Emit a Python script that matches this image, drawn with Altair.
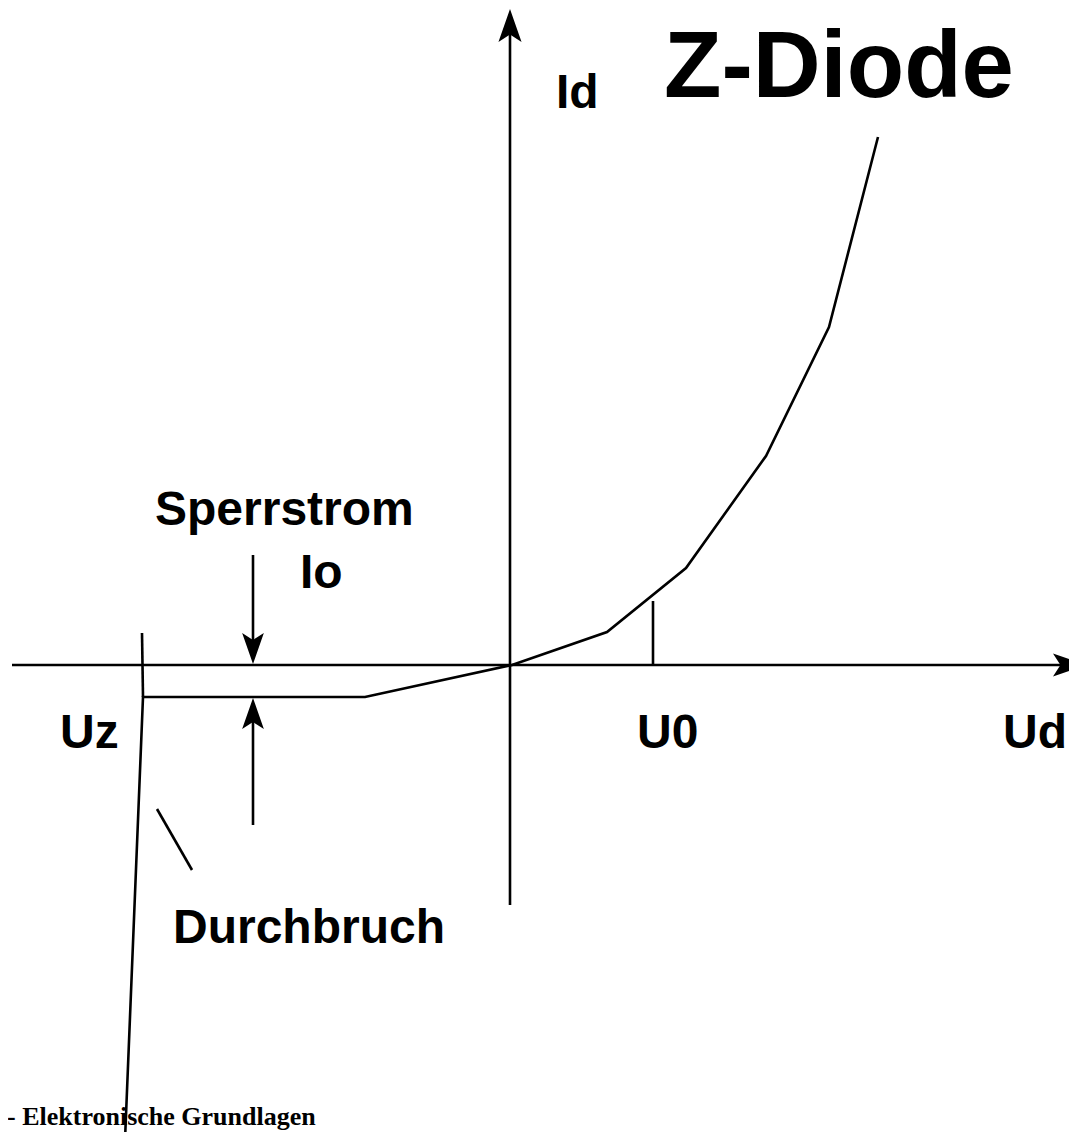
import altair as alt
import pandas as pd

# Coordinates: u = voltage-like horizontal position, i = current-like vertical position
# (origin at the axes crossing)

# characteristic curve (breakdown branch -> reverse -> forward)
curve_u = [-385, -367, -145, 2, 97, 176, 256, 319, 368]
curve_i = [-475, -32, -32, 0, 33, 97, 209, 338, 528]

# straight helper segments: (name, u0, i0, u1, i1)
seg_names = ["x_axis", "y_axis", "uz_tick", "u0_tick", "pointer", "io_down", "io_up"]
seg_u0 = [-498, 0, -368, 143, -353, -257, -257]
seg_i0 = [0, -240, 32, 64, -144, 110, -160]
seg_u1 = [560, 0, -367, 143, -318, -257, -257]
seg_i1 = [0, 640, -32, 0, -205, 15, -47]

# arrow heads
head_u = [0, 576, -257, -257]
head_i = [656, 0, 1, -33]
head_angle = [0, 90, 180, 0]
head_size = [1089, 1089, 961, 961]

# labels
label_text = ["Z-Diode", "Id", "Sperrstrom", "Io", "Uz", "U0", "Ud", "Durchbruch"]
label_u = [154, 46, -355, -210, -450, 127, 493, -337]
label_i = [568, 557, 140, 77, -83, -83, -83, -278]
label_size = [94, 48, 48, 48, 48, 48, 48, 48]

footer_text = ["- Elektronische Grundlagen"]
footer_u = [-503]
footer_i = [-460]

W, H = 1061, 1124
xs = alt.Scale(domain=[-502, 559], nice=False, zero=False)
ys = alt.Scale(domain=[-467, 657], nice=False, zero=False)

rows = []
for k, (u, i) in enumerate(zip(curve_u, curve_i)):
    rows.append({"seg": "curve", "ord": k, "u": u, "i": i})
for n, a, b, c, d in zip(seg_names, seg_u0, seg_i0, seg_u1, seg_i1):
    rows.append({"seg": n, "ord": 0, "u": a, "i": b})
    rows.append({"seg": n, "ord": 1, "u": c, "i": d})
lines_df = pd.DataFrame(rows)

heads_df = pd.DataFrame({"u": head_u, "i": head_i, "ang": head_angle, "sz": head_size})
labels_df = pd.DataFrame({"t": label_text, "u": label_u, "i": label_i, "fs": label_size})
footer_df = pd.DataFrame({"t": footer_text, "u": footer_u, "i": footer_i})

X = lambda: alt.X("u:Q", scale=xs, axis=None)
Y = lambda: alt.Y("i:Q", scale=ys, axis=None)

lines = alt.Chart(lines_df).mark_line(color="black", strokeWidth=2.6, strokeCap="butt").encode(
    x=X(), y=Y(), detail="seg:N", order="ord:Q"
)

heads = alt.Chart(heads_df).mark_point(
    shape="M0,0 L0.7,2 L0,1.55 L-0.7,2 Z", filled=True, color="black", opacity=1, strokeWidth=0
).encode(
    x=X(), y=Y(),
    angle=alt.Angle("ang:Q", scale=None),
    size=alt.Size("sz:Q", scale=None),
)

labels = alt.Chart(labels_df).mark_text(
    font="Liberation Sans", fontWeight="bold", align="left", baseline="alphabetic", color="black"
).encode(
    x=X(), y=Y(), text="t:N", size=alt.Size("fs:Q", scale=None)
)

footer = alt.Chart(footer_df).mark_text(
    font="Liberation Serif", fontWeight="bold", fontSize=26, align="left", baseline="alphabetic", color="black"
).encode(x=X(), y=Y(), text="t:N")

chart = alt.layer(lines, heads, labels, footer).properties(
    width=W, height=H, padding=0, autosize=alt.AutoSizeParams(type="none"), background="white"
).configure_view(stroke=None)

chart.save("out.html", embed_options={"renderer": "svg", "actions": False})
